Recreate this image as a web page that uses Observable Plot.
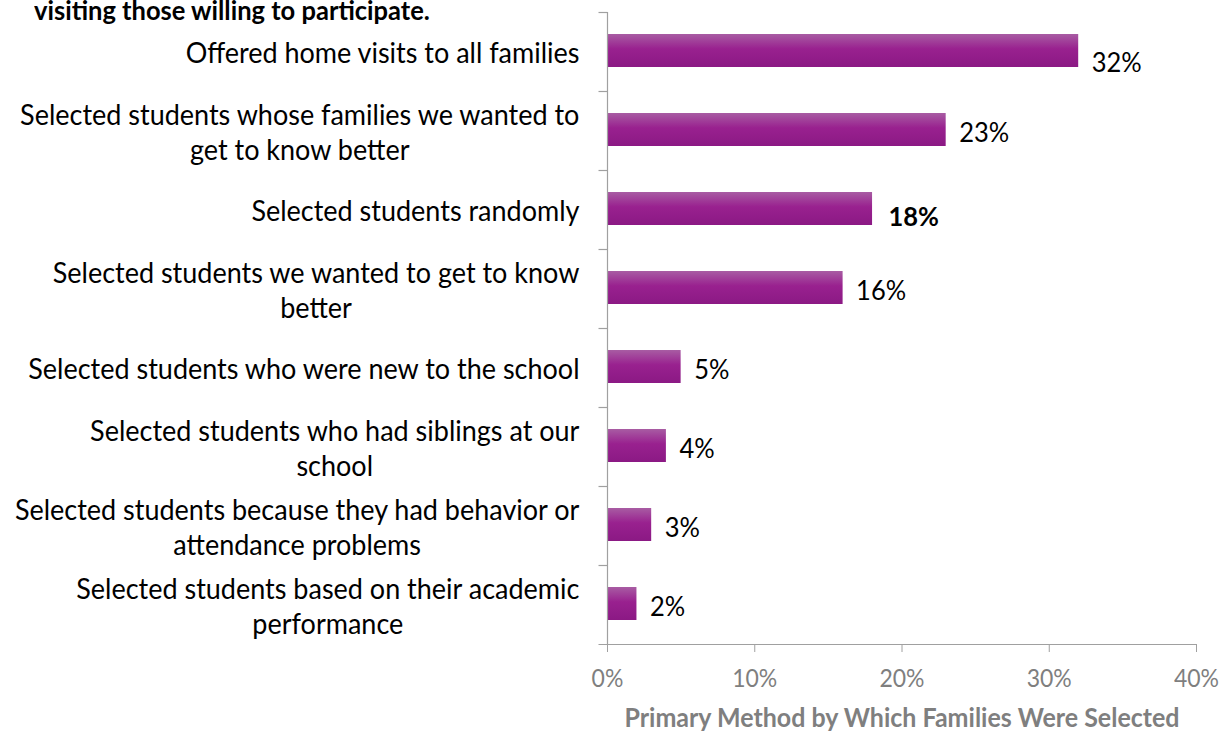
<!DOCTYPE html>
<html>
<head>
<meta charset="utf-8">
<script src="https://cdn.jsdelivr.net/npm/d3@7"></script>
<script src="https://cdn.jsdelivr.net/npm/@observablehq/plot@0.6"></script>
<style>
  html, body { margin: 0; padding: 0; background: #fff; }
  #wrap { position: relative; width: 1228px; height: 732px; overflow: hidden; font-family: Lato, sans-serif; }
  #title { position: absolute; left: 34px; top: -3px; font-family: Lato, sans-serif; font-weight: bold; font-size: 25.5px; line-height: 26px; color: #000; white-space: nowrap; transform: scaleY(1.05); transform-origin: 0 22.9px; }
  #chart { position: absolute; left: 0; top: 0; }
</style>
</head>
<body>
<div id="wrap">
  <div id="chart"></div>
  <div id="title"></div>
</div>
<script>
// ---- data ----
const chartTitle = "visiting those willing to participate.";
const categories = [
  "Offered home visits to all families",
  "Selected students whose families we wanted to\nget to know better",
  "Selected students randomly",
  "Selected students we wanted to get to know\nbetter",
  "Selected students who were new to the school",
  "Selected students who had siblings at our\nschool",
  "Selected students because they had behavior or\nattendance problems",
  "Selected students based on their academic\nperformance"
];
const values = [32, 23, 18, 16, 5, 4, 3, 2];
const highlighted = ["Selected students randomly"];
const xTicks = [0, 10, 20, 30, 40];
const xTitle = "Primary Method by Which Families Were Selected";

// ---- chart ----
const data = categories.map((c, i) => ({category: c, value: values[i], bold: highlighted.includes(c), first: i === 0}));
const W = 1228, H = 732;
const axisGray = "#a0a0a0";
const textGray = "#7f7f7f";
const FS = 27;     // category label size
const VS = 25.5;   // value label size
const SY = 1.05;

document.getElementById("title").textContent = chartTitle;

const frameAxes = (index, scales, values, dims) => {
  const g = d3.create("svg:g").attr("stroke", axisGray).attr("stroke-width", 1.2).attr("fill", "none");
  const x0 = Math.round(scales.x(0)) + 0.5;
  const xr = scales.x(40);
  const bottom = dims.height - dims.marginBottom;
  const top = dims.marginTop;
  g.append("line").attr("x1", x0).attr("x2", x0).attr("y1", top).attr("y2", bottom);
  g.append("line").attr("x1", x0 - 9).attr("x2", xr).attr("y1", bottom + 0.5).attr("y2", bottom + 0.5);
  for (const c of categories) {
    const y = Math.round(scales.y(c)) + 0.5;
    g.append("line").attr("x1", x0 - 9).attr("x2", x0).attr("y1", y).attr("y2", y);
  }
  return g.node();
};

const chart = Plot.plot({
  width: W, height: H,
  marginLeft: 607, marginRight: 32, marginTop: 12, marginBottom: 88,
  style: {fontFamily: "Lato, sans-serif", background: "#fff", overflow: "visible"},
  x: {domain: [0, 40], axis: null},
  y: {domain: categories, padding: 0, axis: null},
  marks: [
    Plot.barX(data, {x: "value", y: "category", fill: "url(#barGrad)", insetTop: 22, insetBottom: 24}),
    frameAxes,
    Plot.axisX(xTicks, {tickSize: 8, tickPadding: 17, tickFormat: d => d + "%", fontSize: 23, fill: textGray, stroke: axisGray, label: null}),
    Plot.text(data, {x: 0, y: "category", text: "category", textAnchor: "end", dx: -28, fontSize: FS, lineHeight: 1.23, fill: "#000", className: "cat-label"}),
    Plot.text(data.filter(d => !d.bold && !d.first), {x: "value", y: "category", text: d => d.value + "%", textAnchor: "start", dx: 13, dy: 2, fontSize: VS, fill: "#000"}),
    Plot.text(data.filter(d => d.first), {x: "value", y: "category", text: d => d.value + "%", textAnchor: "start", dx: 13, dy: 11, fontSize: VS, fill: "#000"}),
    Plot.text(data.filter(d => d.bold), {x: "value", y: "category", text: d => d.value + "%", textAnchor: "start", dx: 16, dy: 7, fontSize: VS, fontWeight: "bold", fill: "#000"}),
    Plot.text([xTitle], {frameAnchor: "bottom", lineAnchor: "middle", dy: 74, fontSize: 25, fontWeight: "bold", fill: textGray})
  ]
});

document.getElementById("chart").appendChild(chart);

// gradient for bars
const svg = d3.select(chart);
const defs = svg.insert("defs", ":first-child");
const grad = defs.append("linearGradient").attr("id", "barGrad").attr("x1", 0).attr("y1", 0).attr("x2", 0).attr("y2", 1);
grad.append("stop").attr("offset", "0%").attr("stop-color", "#a85ca3");
grad.append("stop").attr("offset", "45%").attr("stop-color", "#99218f");
grad.append("stop").attr("offset", "100%").attr("stop-color", "#8b1984");

// centre the lines of wrapped category labels within their right-aligned block
svg.selectAll("g.cat-label text").each(function() {
  const tspans = this.querySelectorAll("tspan");
  if (tspans.length > 1) {
    let w = 0;
    tspans.forEach(t => { w = Math.max(w, t.getComputedTextLength()); });
    this.setAttribute("text-anchor", "middle");
    tspans.forEach(t => t.setAttribute("x", -w / 2));
  }
});

// slight vertical stretch of text to mimic the reference's tall glyphs
svg.selectAll("text").each(function() {
  const t = this.getAttribute("transform") || "";
  this.setAttribute("transform", t + ` scale(1,${SY})`);
});
</script>
</body>
</html>
